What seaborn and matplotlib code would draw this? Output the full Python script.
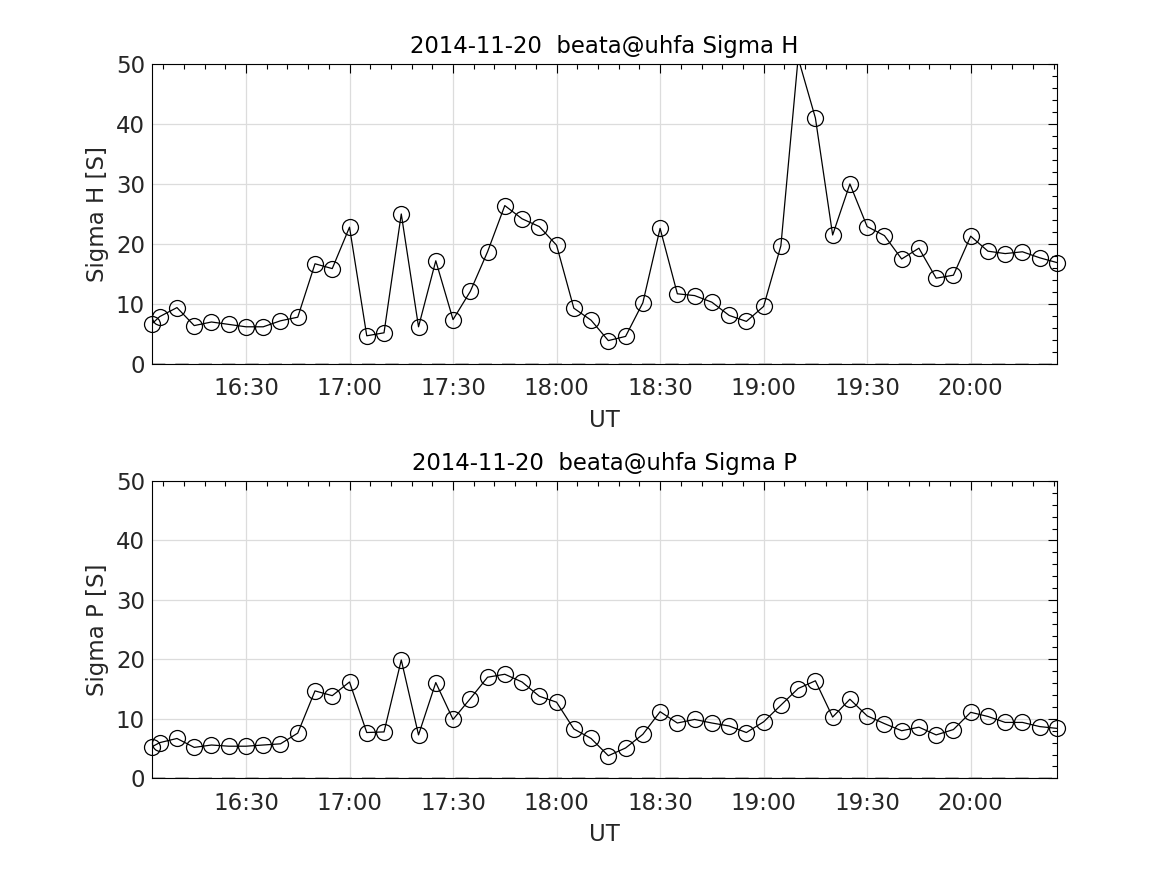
import matplotlib
matplotlib.use("Agg")
import matplotlib.pyplot as plt
import matplotlib.dates as mdates
import seaborn as sns
import pandas as pd
import numpy as np

# ---- data ----
times = ["16:02:45", "16:05", "16:10", "16:15", "16:20", "16:25", "16:30", "16:35", "16:40", "16:45",
         "16:50", "16:55", "17:00", "17:05", "17:10", "17:15", "17:20", "17:25", "17:30", "17:35",
         "17:40", "17:45", "17:50", "17:55", "18:00", "18:05", "18:10", "18:15", "18:20", "18:25",
         "18:30", "18:35", "18:40", "18:45", "18:50", "18:55", "19:00", "19:05", "19:10", "19:15",
         "19:20", "19:25", "19:30", "19:35", "19:40", "19:45", "19:50", "19:55", "20:00", "20:05",
         "20:10", "20:15", "20:20", "20:25"]
sigma_h = [6.7, 7.9, 9.4, 6.4, 7.0, 6.6, 6.2, 6.2, 7.2, 7.8,
           16.7, 15.9, 22.8, 4.7, 5.2, 25.0, 6.2, 17.2, 7.4, 12.1,
           18.7, 26.4, 24.2, 22.9, 19.8, 9.3, 7.3, 3.9, 4.6, 10.2,
           22.6, 11.7, 11.4, 10.3, 8.1, 7.1, 9.6, 19.7, 51.0, 41.0,
           21.5, 30.0, 22.9, 21.4, 17.5, 19.3, 14.3, 14.8, 21.3, 18.8,
           18.4, 18.7, 17.7, 16.9]
sigma_p = [5.3, 6.0, 6.7, 5.2, 5.6, 5.4, 5.4, 5.6, 5.8, 7.6,
           14.7, 13.9, 16.2, 7.7, 7.8, 19.9, 7.3, 16.1, 9.9, 13.4,
           17.0, 17.5, 16.2, 13.8, 12.8, 8.3, 6.7, 3.8, 5.1, 7.4,
           11.2, 9.3, 9.9, 9.3, 8.8, 7.7, 9.5, 12.3, 15.1, 16.4,
           10.3, 13.3, 10.5, 9.2, 8.0, 8.6, 7.3, 8.2, 11.1, 10.4,
           9.4, 9.4, 8.7, 8.4]
date = "2014-11-20"
titles = ["2014-11-20  beata@uhfa Sigma H", "2014-11-20  beata@uhfa Sigma P"]
ylabels = ["Sigma H [S]", "Sigma P [S]"]
xlabel = "UT"
y_ticks = [0, 10, 20, 30, 40, 50]

t = pd.to_datetime([f"{date} {s}" for s in times], format="mixed")
df = pd.DataFrame({"t": t, "H": sigma_h, "P": sigma_p})

sns.set_style("white")
plt.rcParams["font.family"] = ["DejaVu Sans"]
TXT = "#262626"
FS = 16.5

fig = plt.figure(figsize=(11.67, 8.75), dpi=100)
positions = [[0.1302, 0.584, 0.7755, 0.3429], [0.1302, 0.1105, 0.7755, 0.3398]]

for col, pos, title, ylab in zip(["H", "P"], positions, titles, ylabels):
    ax = fig.add_axes(pos)
    ax.axhline(0, color="#b0b0b0", lw=1.2, ls=(0, (8, 6)), zorder=1)
    sns.lineplot(data=df, x="t", y=col, ax=ax, color="black", lw=0.9, zorder=3)
    vis = df[df[col] <= y_ticks[-1]]
    ax.plot(vis["t"], vis[col], ls="none", marker="o", ms=11.5, mfc="none",
            mec="black", mew=0.9, zorder=4, clip_on=False)
    ax.set_xlim(df["t"].iloc[0], df["t"].iloc[-1])
    ax.set_ylim(y_ticks[0], y_ticks[-1])
    ax.set_yticks(y_ticks)
    ax.yaxis.set_minor_locator(matplotlib.ticker.MultipleLocator(2))
    ax.xaxis.set_major_locator(mdates.MinuteLocator(byminute=[0, 30]))
    ax.xaxis.set_major_formatter(mdates.DateFormatter("%H:%M"))
    ax.xaxis.set_minor_locator(mdates.MinuteLocator(byminute=range(0, 60, 6)))
    ax.grid(True, which="major", color="#dcdcdc", lw=0.9)
    ax.set_axisbelow(True)
    for s in ax.spines.values():
        s.set_color("black")
        s.set_linewidth(0.8)
        s.set_visible(True)
    ax.tick_params(which="both", direction="in", top=True, right=True,
                   color="black", labelsize=FS, labelcolor=TXT)
    ax.tick_params(which="major", length=6.5, width=0.8)
    ax.tick_params(which="minor", length=3.6, width=0.8)
    ax.tick_params(axis="x", which="major", pad=9.5)
    ax.tick_params(axis="y", which="major", pad=5)
    ax.set_title(title, fontsize=16.4, color="black", pad=8)
    ax.set_ylabel(ylab, fontsize=FS, color=TXT, labelpad=5)
    ax.set_xlabel(xlabel, fontsize=FS, color=TXT, labelpad=6)

fig.savefig("out.png", dpi=100)
